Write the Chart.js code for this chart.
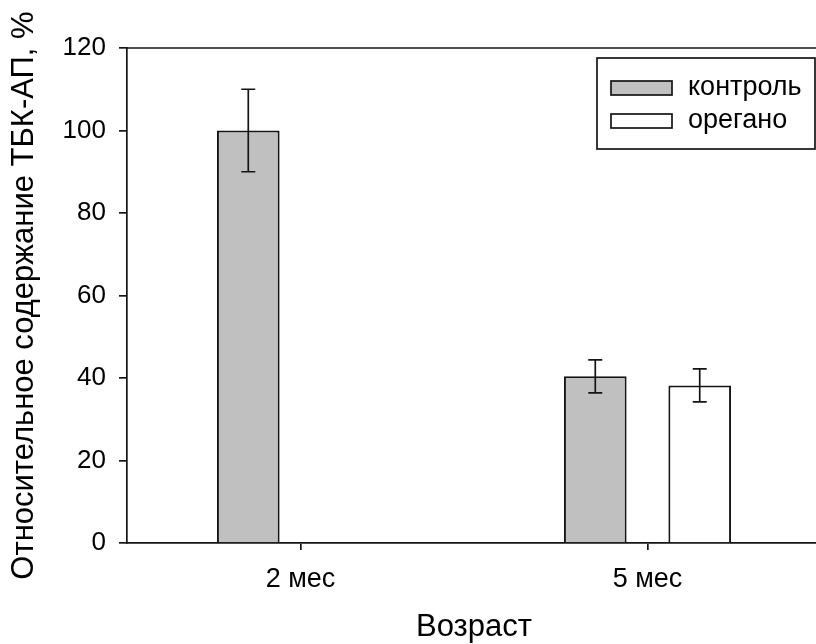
<!DOCTYPE html>
<html>
<head>
<meta charset="utf-8">
<script src="https://cdn.jsdelivr.net/npm/chart.js@4"></script>
<style>
  html, body { margin: 0; padding: 0; background: #fff; overflow: hidden; width: 816px; height: 644px; }
  #c { display: block; }
</style>
</head>
<body>
<canvas id="c" width="821" height="644" style="width:821px;height:644px"></canvas>
<script>
const categories = ['2 мес', '5 мес'];
const controlValues = [100, 40.4];
const controlErrors = [10, 4.0];
const oreganoValues = [null, 38.2];
const oreganoErrors = [null, 4.0];
const yTicks = [0, 20, 40, 60, 80, 100, 120];

const FONT = '"Liberation Sans", Arial, Helvetica, sans-serif';
const errors = [controlErrors, oreganoErrors];
const INK = '#151515';

const errorBarPlugin = {
  id: 'errorBars',
  afterDatasetsDraw(chart) {
    const ctx = chart.ctx;
    const y = chart.scales.y;
    ctx.save();
    ctx.strokeStyle = INK;
    ctx.lineWidth = 1.7;
    chart.data.datasets.forEach((ds, di) => {
      const meta = chart.getDatasetMeta(di);
      meta.data.forEach((bar, i) => {
        const v = ds.data[i];
        const e = errors[di][i];
        if (v == null || e == null) return;
        const x = bar.x;
        const yt = y.getPixelForValue(v + e);
        const yb = y.getPixelForValue(v - e);
        const cap = 7;
        ctx.beginPath();
        ctx.moveTo(x, yt); ctx.lineTo(x, yb);
        ctx.moveTo(x - cap, yt); ctx.lineTo(x + cap, yt);
        ctx.moveTo(x - cap, yb); ctx.lineTo(x + cap, yb);
        ctx.stroke();
      });
    });
    ctx.restore();
  }
};

const framePlugin = {
  id: 'frame',
  afterDraw(chart) {
    const ctx = chart.ctx;
    const a = chart.chartArea;
    ctx.save();
    ctx.strokeStyle = INK;
    ctx.lineWidth = 1.7;
    ctx.beginPath();
    ctx.moveTo(a.left, a.top);
    ctx.lineTo(a.right, a.top);
    ctx.stroke();
    // legend
    const bx = 597, by = 58, bw = 218, bh = 91;
    ctx.strokeRect(bx, by, bw, bh);
    ctx.font = '27px ' + FONT;
    ctx.textBaseline = 'middle';
    ctx.textAlign = 'left';
    chart.data.datasets.forEach((ds, di) => {
      const cy = 88 + di * 33;
      ctx.fillStyle = ds.backgroundColor;
      ctx.fillRect(611, cy - 7, 61, 14);
      ctx.strokeRect(611, cy - 7, 61, 14);
      ctx.fillStyle = '#000';
      ctx.fillText(ds.label, 688, cy);
    });
    ctx.restore();
  }
};

new Chart(document.getElementById('c'), {
  type: 'bar',
  data: {
    labels: categories,
    datasets: [
      { label: 'контроль', data: controlValues, backgroundColor: '#c0c0c0', borderColor: INK, borderWidth: 2,
        categoryPercentage: 0.602, barPercentage: 0.6 },
      { label: 'орегано', data: oreganoValues, backgroundColor: '#ffffff', borderColor: INK, borderWidth: 2,
        categoryPercentage: 0.602, barPercentage: 0.6 }
    ]
  },
  options: {
    responsive: false,
    animation: false,
    devicePixelRatio: 1,
    layout: { padding: { top: 48, left: 0, right: 0, bottom: 0 } },
    plugins: { legend: { display: false }, tooltip: { enabled: false } },
    scales: {
      x: {
        grid: { offset: false, drawOnChartArea: false, drawTicks: true, tickLength: 7, color: INK, lineWidth: 1.7 },
        border: { display: true, color: INK, width: 1.7 },
        ticks: { color: '#000', font: { family: FONT, size: 27 }, padding: 13 },
        title: { display: true, text: 'Возраст', color: '#000', font: { family: FONT, size: 31, lineHeight: 1.0 }, padding: { top: 0, bottom: 1 } },
        afterFit(s) { s.height = 101; }
      },
      y: {
        min: 0, max: 120,
        afterBuildTicks(s) { s.ticks = yTicks.map(v => ({ value: v })); },
        grid: { drawOnChartArea: false, drawTicks: true, tickLength: 8, color: INK, lineWidth: 1.7 },
        border: { display: true, color: INK, width: 1.7 },
        ticks: { color: '#000', font: { family: FONT, size: 26 }, padding: 13 },
        title: { display: true, text: 'Относительное содержание ТБК-АП, %', color: '#000', font: { family: FONT, size: 31, lineHeight: 1.2 }, padding: { top: 6, bottom: 0 } },
        afterFit(s) { s.width = 127; }
      }
    }
  },
  plugins: [errorBarPlugin, framePlugin]
});
</script>
</body>
</html>
